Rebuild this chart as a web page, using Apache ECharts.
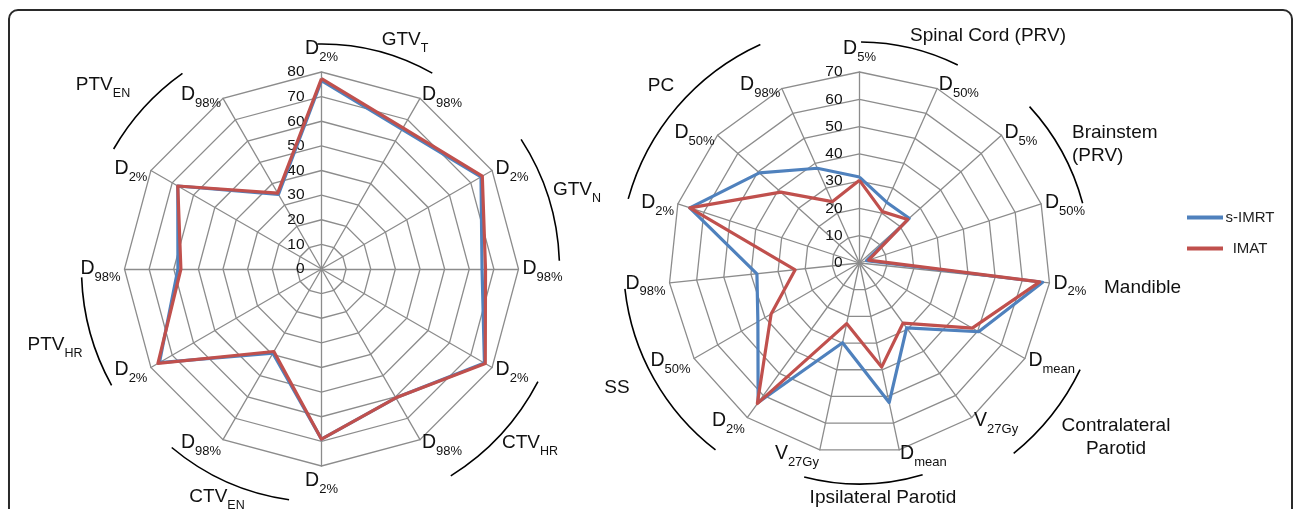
<!DOCTYPE html>
<html>
<head>
<meta charset="utf-8">
<script src="https://cdn.jsdelivr.net/npm/echarts@6/dist/echarts.min.js"></script>
<style>
html,body{margin:0;padding:0;background:#fff;}
#chart{width:1296px;height:509px;}
</style>
</head>
<body>
<div id="chart"></div>
<script>
// ---------- DATA (clockwise from top) ----------
const leftMain = ['D','D','D','D','D','D','D','D','D','D','D','D'];
const leftSub  = ['2%','98%','2%','98%','2%','98%','2%','98%','2%','98%','2%','98%'];
const leftSIMRT = [76.5, 65.5, 74.8, 65.2, 76.4, 60.4, 69.1, 39.5, 76.0, 58.3, 67.4, 35.0];
const leftIMAT  = [77.3, 66.2, 75.4, 66.6, 76.8, 60.4, 69.1, 38.7, 76.7, 57.1, 67.4, 35.6];
const leftMax = 80;

const rightMain = ['D','D','D','D','D','D','V','D','V','D','D','D','D','D','D'];
const rightSub  = ['5%','50%','5%','50%','2%','mean','27Gy','mean','27Gy','2%','50%','98%','2%','50%','98%'];
const rightSIMRT = [31.5, 24.4, 24.5, 2.7, 67.5, 50.4, 29.4, 52.3, 29.9, 63.2, 43.0, 37.8, 65.4, 49.4, 38.0];
const rightIMAT  = [30.3, 20.6, 23.8, 3.5, 66.4, 47.7, 27.2, 39.0, 22.7, 63.7, 37.4, 23.7, 65.4, 38.8, 24.6];
const rightMax = 70;

const seriesNames = ['s-IMRT', 'IMAT'];
const seriesColors = ['#4F81BD', '#C0504D'];

// group annotations
const leftGroups = [
  {main:'GTV', sub:'T'}, {main:'GTV', sub:'N'}, {main:'CTV', sub:'HR'},
  {main:'CTV', sub:'EN'}, {main:'PTV', sub:'HR'}, {main:'PTV', sub:'EN'}
];
const rightGroups = ['Spinal Cord (PRV)', 'Brainstem\n(PRV)', 'Mandible', 'Contralateral\nParotid', 'Ipsilateral Parotid', 'SS', 'PC'];

// ---------- LAYOUT ----------
const FONT = "'Liberation Sans', Arial, sans-serif";
const L = {cx: 321.5, cy: 269, r: 197};
const R = {cx: 859.5, cy: 263, r: 191};
// arcs: [startDeg, endDeg, radius] measured clockwise from top
const leftArcs = [[-1, 29.5, 225], [57, 88, 238], [117.5, 148, 244], [188, 220, 233], [241, 268, 240], [300, 324.6, 240]];
const rightArcs = [[0.4, 26.4, 221], [47.4, 75, 231], [115.8, 141, 245], [163.4, 194.5, 221], [217.6, 263.7, 236], [285.5, 335.6, 240]];
const leftGroupPos = [[405, 40], [577, 190], [530, 443], [217, 497], [55, 345], [103, 85]];
const rightGroupPos = [
  {x: 988, y: 36, align: 'center'},
  {x: 1072, y: 144, align: 'left'},
  {x: 1104, y: 288, align: 'left'},
  {x: 1116, y: 437, align: 'center'},
  {x: 883, y: 498, align: 'center'},
  {x: 617, y: 388, align: 'center'},
  {x: 661, y: 86, align: 'center'}
];

// ECharts radar lays indicators counter-clockwise; reorder so they run clockwise
function ccw(arr) { return [arr[0]].concat(arr.slice(1).reverse()); }

function indicators(main, sub, max) {
  return ccw(main.map((m, i) => ({
    name: '{m|' + m + '}{s|' + sub[i] + '}',
    min: 0, max: max,
    axisLabel: i === 0 ? {show: true} : {show: false}
  })));
}

const nameRich = {
  m: {fontSize: 19.5, fontFamily: FONT, color: '#111', lineHeight: 22},
  s: {fontSize: 13, fontFamily: FONT, color: '#111', lineHeight: 13, verticalAlign: 'bottom', padding: [0, 0, -4, 0]}
};

function radarCfg(c, splitNumber, inds) {
  return {
    center: [c.cx, c.cy], radius: c.r, startAngle: 90, shape: 'polygon',
    splitNumber: splitNumber,
    indicator: inds,
    nameGap: 4,
    axisName: {formatter: v => v, rich: nameRich, color: '#111'},
    splitLine: {lineStyle: {color: '#8c8c8c', width: 1.3}},
    splitArea: {show: false},
    axisLine: {lineStyle: {color: '#8c8c8c', width: 1.3}},
    axisTick: {show: false},
    axisLabel: {show: false, fontSize: 15.5, color: '#111', fontFamily: FONT, margin: 17}
  };
}

function arcEls(c, arcs) {
  return arcs.map(a => ({
    type: 'arc', silent: true,
    shape: {cx: c.cx, cy: c.cy, r: a[2], startAngle: (a[0] - 90) * Math.PI / 180, endAngle: (a[1] - 90) * Math.PI / 180, clockwise: true},
    style: {stroke: '#000', fill: null, lineWidth: 1.6}
  }));
}

const graphics = [
  {type: 'rect', silent: true, shape: {x: 9, y: 10, width: 1283, height: 540, r: 9},
   style: {stroke: '#2a2a2a', fill: null, lineWidth: 2}}
].concat(arcEls(L, leftArcs), arcEls(R, rightArcs));

leftGroups.forEach((g, i) => {
  graphics.push({
    type: 'text', silent: true,
    style: {
      text: '{m|' + g.main + '}{s|' + g.sub + '}',
      x: leftGroupPos[i][0], y: leftGroupPos[i][1],
      align: 'center', verticalAlign: 'middle',
      rich: {
        m: {fontSize: 19, fontFamily: FONT, fill: '#111', lineHeight: 22},
        s: {fontSize: 12.5, fontFamily: FONT, fill: '#111', lineHeight: 12, verticalAlign: 'bottom', padding: [0, 0, -4, 0]}
      }
    }
  });
});
rightGroups.forEach((t, i) => {
  const p = rightGroupPos[i];
  graphics.push({
    type: 'text', silent: true,
    style: {text: t, x: p.x, y: p.y, align: p.align, verticalAlign: 'middle',
            fontSize: 19, fontFamily: FONT, fill: '#111', lineHeight: 23}
  });
});

function radarSeries(idx, data0, data1) {
  return [data0, data1].map((d, k) => ({
    type: 'radar', name: seriesNames[k], radarIndex: idx,
    symbol: 'none', silent: true,
    itemStyle: {color: seriesColors[k]},
    lineStyle: {color: seriesColors[k], width: 3.2},
    data: [{name: seriesNames[k], value: ccw(d)}]
  }));
}

const chart = echarts.init(document.getElementById('chart'), null, {renderer: 'canvas'});
chart.setOption({
  animation: false,
  backgroundColor: '#fff',
  legend: {
    orient: 'vertical', left: 1182, top: 205,
    itemWidth: 36, itemHeight: 4, icon: 'rect', itemGap: 16,
    data: seriesNames,
    formatter: n => '{c|' + n + '}',
    textStyle: {rich: {c: {fontSize: 15, fontFamily: FONT, color: '#222', width: 44, align: 'center', lineHeight: 16}}}
  },
  radar: [
    radarCfg(L, 8, indicators(leftMain, leftSub, leftMax)),
    radarCfg(R, 7, indicators(rightMain, rightSub, rightMax))
  ],
  series: radarSeries(0, leftSIMRT, leftIMAT).concat(radarSeries(1, rightSIMRT, rightIMAT)),
  graphic: graphics
});
</script>
</body>
</html>
